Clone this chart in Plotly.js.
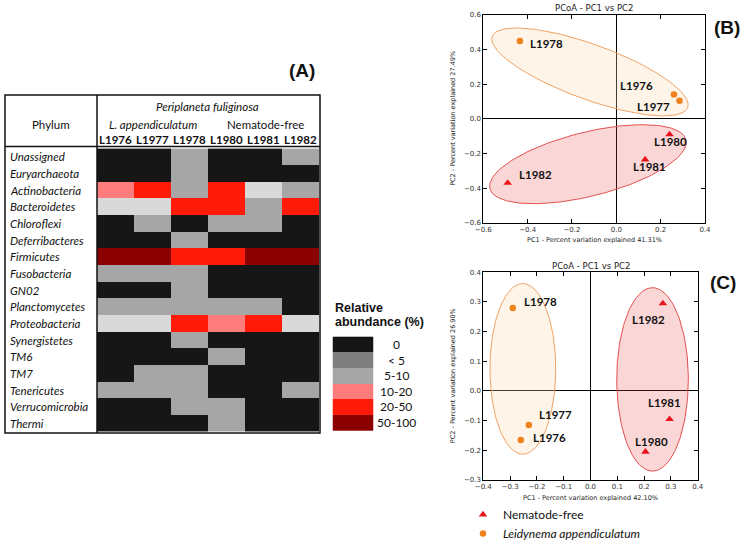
<!DOCTYPE html>
<html><head><meta charset="utf-8">
<script src="https://cdn.plot.ly/plotly-3.0.1.min.js"></script>
<style>html,body{margin:0;padding:0;background:#fff}#chart{width:745px;height:545px}</style>
</head><body><div id="chart"></div>
<script>
// ---------- DATA ----------
const phyla = ['Unassigned','Euryarchaeota','Actinobacteria','Bacteroidetes','Chloroflexi','Deferribacteres','Firmicutes','Fusobacteria','GN02','Planctomycetes','Proteobacteria','Synergistetes','TM6','TM7','Tenericutes','Verrucomicrobia','Thermi'];
const samples = ['L1976','L1977','L1978','L1980','L1981','L1982'];
// abundance class: 0 = 0, 1 = <5, 2 = 5-10, 3 = light grey, 4 = 10-20, 5 = 20-50, 6 = 50-100
const abundanceClass = [
  [0,0,2,0,0,2],
  [0,0,2,0,0,0],
  [4,5,2,5,3,2],
  [3,3,5,5,2,5],
  [0,2,0,2,2,0],
  [0,0,2,0,0,0],
  [6,6,5,5,6,6],
  [2,2,2,0,0,0],
  [0,0,2,0,0,0],
  [2,2,2,2,2,0],
  [3,3,5,4,5,3],
  [0,0,2,0,0,0],
  [0,0,0,2,0,0],
  [0,2,2,0,0,0],
  [2,2,2,0,0,2],
  [0,0,2,2,0,0],
  [0,0,0,2,0,0]
];
const legendLabels = ['0','< 5','5-10','10-20','20-50','50-100'];
const legendCodes = [0,1,2,4,5,6];
const classColors = ['#161616','#7f7f7f','#a6a6a6','#d9d9d9','#ff7c7c','#ff1a0a','#8b0000'];

const pointLabels = ['L1976','L1977','L1978','L1980','L1981','L1982'];
const pointGroup = ['L','L','L','N','N','N'];
// PCoA (B)
const bPC1 = [0.26, 0.285, -0.435, 0.24, 0.13, -0.49];
const bPC2 = [0.14, 0.105, 0.45, -0.09, -0.235, -0.37];
// PCoA (C)
const cPC1 = [-0.26, -0.23, -0.29, 0.205, 0.295, 0.27];
const cPC2 = [-0.165, -0.115, 0.28, -0.205, -0.095, 0.295];

// ---------- LAYOUT HELPERS ----------
const W = 745, H = 545;
const px = x => x / W;
const py = y => 1 - y / H;

const boxB = {l:483.3, r:705, t:15, b:222.7, xr:[-0.6,0.4], yr:[-0.6,0.6]};
const boxC = {l:483.3, r:697.7, t:272.3, b:480, xr:[-0.4,0.4], yr:[-0.3,0.4]};
function scales(bx){ return {sx:(bx.r-bx.l)/(bx.xr[1]-bx.xr[0]), sy:(bx.b-bx.t)/(bx.yr[1]-bx.yr[0])}; }

// ellipse geometry (centre in data units, semi-axes in screen px, angle deg)
const ellB = [
  {cx:-0.119, cy:0.271, a:104, b:27.5, ang:-20, g:'L'},
  {cx:-0.128, cy:-0.262, a:101, b:32, ang:14, g:'N'}
];
const ellC = [
  {cx:-0.2525, cy:0.0745, a:85.3, b:32.9, ang:90, g:'L'},
  {cx:0.2315, cy:0.039, a:91.7, b:35.8, ang:90, g:'N'}
];
function ellipsePts(e, s){
  const xs=[], ys=[], th=e.ang*Math.PI/180;
  for(let i=0;i<=160;i++){
    const t=2*Math.PI*i/160;
    const dx=e.a*Math.cos(t)*Math.cos(th)-e.b*Math.sin(t)*Math.sin(th);
    const dy=e.a*Math.cos(t)*Math.sin(th)+e.b*Math.sin(t)*Math.cos(th);
    xs.push(e.cx+dx/s.sx); ys.push(e.cy+dy/s.sy);
  }
  return {xs, ys};
}
const grpStyle = {
  L:{name:'<i>Leidynema appendiculatum</i>', color:'#f0821e', symbol:'circle', size:6.5, fill:'rgba(250,215,170,0.28)', line:'#f0a266'},
  N:{name:'Nematode-free', color:'#e8141c', symbol:'triangle-up', size:7.5, fill:'rgba(235,70,70,0.22)', line:'#e25050'}
};

// ---------- TRACES ----------
const n = classColors.length;
const cs = [];
classColors.forEach((c,i)=>{ cs.push([i/n,c]); cs.push([(i+1)/n,c]); });

const traces = [];
traces.push({type:'heatmap', x:samples, y:phyla, z:abundanceClass, colorscale:cs, zmin:-0.5, zmax:n-0.5,
  showscale:false, xaxis:'x', yaxis:'y', hoverinfo:'skip'});
traces.push({type:'heatmap', x:[0], y:legendLabels, z:legendCodes.map(c=>[c]), colorscale:cs, zmin:-0.5, zmax:n-0.5,
  showscale:false, xaxis:'x2', yaxis:'y2', hoverinfo:'skip'});

function addPcoa(ells, pc1, pc2, bx, xa, ya, legend){
  const s = scales(bx);
  ells.forEach(e=>{
    const p = ellipsePts(e, s), st = grpStyle[e.g];
    traces.push({type:'scatter', mode:'lines', x:p.xs, y:p.ys, fill:'toself', fillcolor:st.fill,
      line:{color:st.line, width:1}, xaxis:xa, yaxis:ya, showlegend:false, hoverinfo:'skip'});
  });
  ['N','L'].forEach(g=>{
    const st = grpStyle[g];
    const idx = pointGroup.map((v,i)=>v===g?i:-1).filter(i=>i>=0);
    traces.push({type:'scatter', mode:'markers', name:st.name, x:idx.map(i=>pc1[i]), y:idx.map(i=>pc2[i]),
      marker:{symbol:st.symbol, color:st.color, size:st.size, line:{width:0}}, xaxis:xa, yaxis:ya, showlegend:legend});
  });
}
addPcoa(ellB, bPC1, bPC2, boxB, 'x3', 'y3', false);
addPcoa(ellC, cPC1, cPC2, boxC, 'x4', 'y4', true);

// ---------- ANNOTATIONS ----------
const ann = [];
const calib = 'Lato, "Open Sans", sans-serif';
const mpl = '"DejaVu Sans", sans-serif';
const arialB = '"Liberation Sans", Arial, sans-serif';
function txt(o){ ann.push(Object.assign({showarrow:false, xref:'paper', yref:'paper', xanchor:'center', yanchor:'middle'}, o)); }

// heatmap table text
txt({x:px(51), y:py(124), text:'Phylum', font:{family:calib, size:11.5, color:'#111'}});
txt({x:px(208), y:py(106), text:'<i>Periplaneta fuliginosa</i>', font:{family:calib, size:11.5, color:'#111'}});
txt({x:px(153), y:py(124), text:'<i>L. appendiculatum</i>', font:{family:calib, size:11.5, color:'#111'}});
txt({x:px(265), y:py(124), text:'Nematode-free', font:{family:calib, size:11.5, color:'#111'}});
samples.forEach(s=>txt({xref:'x', x:s, y:py(139.5), text:'<b>'+s+'</b>', font:{family:calib, size:11.5, color:'#111'}}));
phyla.forEach(p=>txt({x:px(8), xanchor:'left', yref:'y', y:p, text:'<i>'+p+'</i>', font:{family:calib, size:11.5, color:'#111'}}));
// heatmap legend
txt({x:px(333), xanchor:'left', y:py(308), text:'<b>Relative</b>', font:{family:arialB, size:12.5, color:'#111'}});
txt({x:px(333), xanchor:'left', y:py(322), text:'<b>abundance (%)</b>', font:{family:arialB, size:12.5, color:'#111'}});
legendLabels.forEach(l=>txt({x:px(396), yref:'y2', y:l, text:l.replace('<','&lt;'), font:{family:calib, size:12, color:'#111'}}));
// panel letters
txt({x:px(302), y:py(70), text:'<b>(A)</b>', font:{family:arialB, size:19, color:'#111'}});
txt({x:px(727), y:py(27), text:'<b>(B)</b>', font:{family:arialB, size:19, color:'#111'}});
txt({x:px(723), y:py(282), text:'<b>(C)</b>', font:{family:arialB, size:19, color:'#111'}});
// PCoA titles
[[boxB,'41.31%','27.49%'],[boxC,'42.10%','26.90%']].forEach(([bx,v1,v2])=>{
  const cxp=(bx.l+bx.r)/2;
  txt({x:px(cxp), y:py(bx.t-6.5), text:'PCoA - PC1 vs PC2', font:{family:mpl, size:8.5, color:'#222'}});
  txt({x:px(cxp), y:py(bx.b+17.5), text:'PC1 - Percent variation explained '+v1, font:{family:mpl, size:6.5, color:'#222'}});
  txt({x:px(453), y:py((bx.t+bx.b)/2), textangle:-90, text:'PC2 - Percent variation explained '+v2, font:{family:mpl, size:6.5, color:'#222'}});
});
// point labels
const offB = [[-19,9,'right'],[-8,-6,'right'],[8,-3,'left'],[1,-7,'center'],[4,-7,'center'],[9,8,'left']];
const offC = [[10,2,'left'],[8,11,'left'],[9,6,'left'],[6,10,'center'],[-5,17,'center'],[-14,-16,'center']];
function labels(pc1, pc2, off, xa, ya){
  pointLabels.forEach((l,i)=>ann.push({showarrow:false, xref:xa, yref:ya, x:pc1[i], y:pc2[i], xanchor:off[i][2], yanchor:'middle',
    xshift:off[i][0], yshift:off[i][1], text:'<b>'+l+'</b>', font:{family:calib, size:11.5, color:'#111'}}));
}
labels(bPC1, bPC2, offB, 'x3', 'y3');
labels(cPC1, cPC2, offC, 'x4', 'y4');

// ---------- SHAPES ----------
const shapes = [
  {type:'rect', xref:'paper', yref:'paper', x0:px(5), x1:px(320), y0:py(95), y1:py(433), line:{color:'#111', width:1.5}},
  {type:'line', xref:'paper', yref:'paper', x0:px(97), x1:px(97), y0:py(95), y1:py(433), line:{color:'#111', width:1.5}},
  {type:'line', xref:'paper', yref:'paper', x0:px(5), x1:px(320), y0:py(146.5), y1:py(146.5), line:{color:'#111', width:1.5}}
];

function pAxis(bx, dtick, isX){
  return {domain: isX ? [px(bx.l), px(bx.r)] : [py(bx.b), py(bx.t)], range: isX ? bx.xr : bx.yr,
    dtick:dtick, tick0:0, tickformat:'.1f', ticks:'inside', ticklen:4, tickcolor:'#000', mirror:'ticks',
    showline:true, linecolor:'#000', linewidth:1, showgrid:false, zeroline:true, zerolinecolor:'#000', zerolinewidth:1,
    tickfont:{family:mpl, size:7, color:'#333'}, fixedrange:true};
}

const layout = {
  width:W, height:H, margin:{l:0,r:0,t:0,b:0,autoexpand:false}, paper_bgcolor:'#fff', plot_bgcolor:'rgba(0,0,0,0)',
  showlegend:true,
  legend:{x:px(463), y:py(500), xanchor:'left', yanchor:'top', bgcolor:'rgba(0,0,0,0)', traceorder:'normal',
    font:{family:calib, size:12, color:'#111'}, itemclick:false, tracegroupgap:0},
  xaxis:{domain:[px(97), px(319)], showticklabels:false, ticks:'', showgrid:false, zeroline:false, showline:false},
  yaxis:{domain:[py(432), py(148.3)], autorange:'reversed', showticklabels:false, ticks:'', showgrid:false, zeroline:false, showline:false},
  xaxis2:{domain:[px(332.5), px(373.5)], showticklabels:false, ticks:'', showgrid:false, zeroline:false, showline:false},
  yaxis2:{domain:[py(432), py(335)], autorange:'reversed', showticklabels:false, ticks:'', showgrid:false, zeroline:false, showline:false},
  xaxis3:Object.assign(pAxis(boxB,0.2,true),{anchor:'y3'}),
  yaxis3:Object.assign(pAxis(boxB,0.2,false),{anchor:'x3'}),
  xaxis4:Object.assign(pAxis(boxC,0.1,true),{anchor:'y4'}),
  yaxis4:Object.assign(pAxis(boxC,0.1,false),{anchor:'x4'}),
  annotations:ann, shapes:shapes
};
Plotly.newPlot('chart', traces, layout, {staticPlot:true});
</script></body></html>
